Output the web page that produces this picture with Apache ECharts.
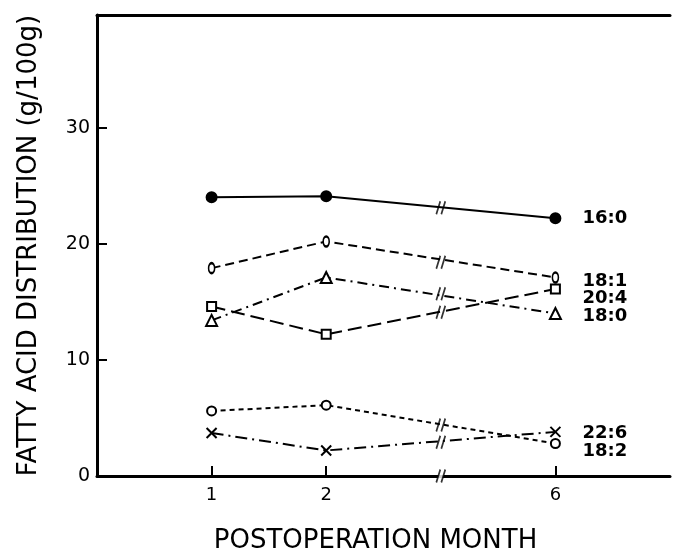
<!DOCTYPE html>
<html><head><meta charset="utf-8">
<script src="https://cdn.jsdelivr.net/npm/echarts@6/dist/echarts.min.js"></script>
<style>html,body{margin:0;padding:0;background:#fff}#c{width:675px;height:558px}</style>
</head><body><div id="c"></div>
<script>
// month labels and their positions on the (broken) x scale
var months = ['1', '2', '6'];
var xPos = [1, 2, 4];
var yTicks = [0, 10, 20, 30];
// series values (g/100g)
var s160 = [24.0, 24.1, 22.2];
var s181 = [17.9, 20.2, 17.1];
var s204 = [14.6, 12.2, 16.1];
var s180 = [13.4, 17.1, 14.0];
var s226 = [3.7, 2.2, 3.8];
var s182 = [5.6, 6.1, 2.8];
// "//" break marks (at the scale break), incl. the axis
var breakX = 3;
var breakY = [23.1, 18.4, 15.7, 14.1, 4.4, 2.9, 0];
var axisBreakY = [0];

var F = 'DejaVu Sans';
function pts(vals) { return vals.map(function (v, i) { return [xPos[i], v]; }); }
var crossPath = 'path://M0,0L10,10M10,0L0,10';
var slashPath = 'path://M0,12L4,0M5,12L9,0';
var gapPath = 'path://M0,12L4,0L9,0L5,12Z';

function ser(name, vals, sym, size, dash, fill, lblOff) {
  return {
    type: 'line', name: name, data: pts(vals), symbol: sym, symbolSize: size,
    z: 3,
    lineStyle: { color: '#000', width: 2, type: dash },
    itemStyle: { color: fill, borderColor: '#000', borderWidth: 2 },
    endLabel: { show: true, formatter: name, color: '#000', fontFamily: F, fontWeight: 'bold', fontSize: 18, distance: 27, offset: lblOff },
    animation: false
  };
}

var chart = echarts.init(document.getElementById('c'));
chart.setOption({
  animation: false,
  grid: { left: 97, right: 5, top: 15, bottom: 82, containLabel: false, outerBoundsMode: 'none' },
  xAxis: [{
    type: 'value', min: 0, max: 5, position: 'bottom',
    splitLine: { show: false },
    axisLine: { lineStyle: { color: '#000', width: 3 } },
    axisTick: { inside: true, length: 10, lineStyle: { color: '#000', width: 2 }, customValues: xPos },
    axisLabel: { customValues: xPos, color: '#000', fontFamily: F, fontSize: 18, margin: 10,
      formatter: function (v) { var i = xPos.indexOf(v); return i >= 0 ? months[i] : ''; } },
    name: 'POSTOPERATION MONTH', nameLocation: 'middle', nameGap: 52,
    nameTextStyle: { color: '#000', fontFamily: F, fontSize: 26, padding: [0, 0, 0, -16] }
  }, {
    type: 'value', min: 0, max: 5, position: 'top',
    splitLine: { show: false }, axisTick: { show: false }, axisLabel: { show: false },
    axisLine: { show: true, lineStyle: { color: '#000', width: 3 } }
  }],
  yAxis: {
    type: 'value', min: 0, max: 39.7, interval: 10,
    splitLine: { show: false },
    axisLine: { show: true, lineStyle: { color: '#000', width: 3 } },
    axisTick: { inside: true, length: 10, lineStyle: { color: '#000', width: 2 }, customValues: yTicks },
    axisLabel: { customValues: yTicks, color: '#000', fontFamily: F, fontSize: 19, margin: 7 },
    name: 'FATTY ACID DISTRIBUTION (g/100g)', nameLocation: 'middle', nameGap: 55,
    nameTextStyle: { color: '#000', fontFamily: F, fontSize: 26 }
  },
  series: [
    ser('16:0', s160, 'circle', 10, 'solid', '#000', [0, 0]),
    ser('18:1', s181, 'emptyCircle', [6, 10], [9, 5], '#000', [0, 4]),
    ser('20:4', s204, 'emptyRect', 9, [14, 6], '#000', [0, 9]),
    ser('18:0', s180, 'emptyTriangle', 11, [10, 5, 2, 5], '#000', [0, 3]),
    ser('22:6', s226, crossPath, 10, [12, 5, 2, 5], 'none', [0, 1]),
    ser('18:2', s182, 'emptyCircle', 9, [5, 4], '#000', [0, 8]),
    {
      type: 'scatter', data: axisBreakY.map(function (v) { return [breakX, v]; }),
      symbol: gapPath, symbolSize: [9, 13], z: 4, clip: false,
      itemStyle: { color: '#fff', borderWidth: 0 },
      silent: true, animation: false
    },
    {
      type: 'scatter', data: breakY.map(function (v) { return [breakX, v]; }),
      symbol: slashPath, symbolSize: [9, 13], z: 5, clip: false,
      itemStyle: { color: 'none', borderColor: '#000', borderWidth: 2 },
      silent: true, animation: false
    }
  ]
});
</script></body></html>
